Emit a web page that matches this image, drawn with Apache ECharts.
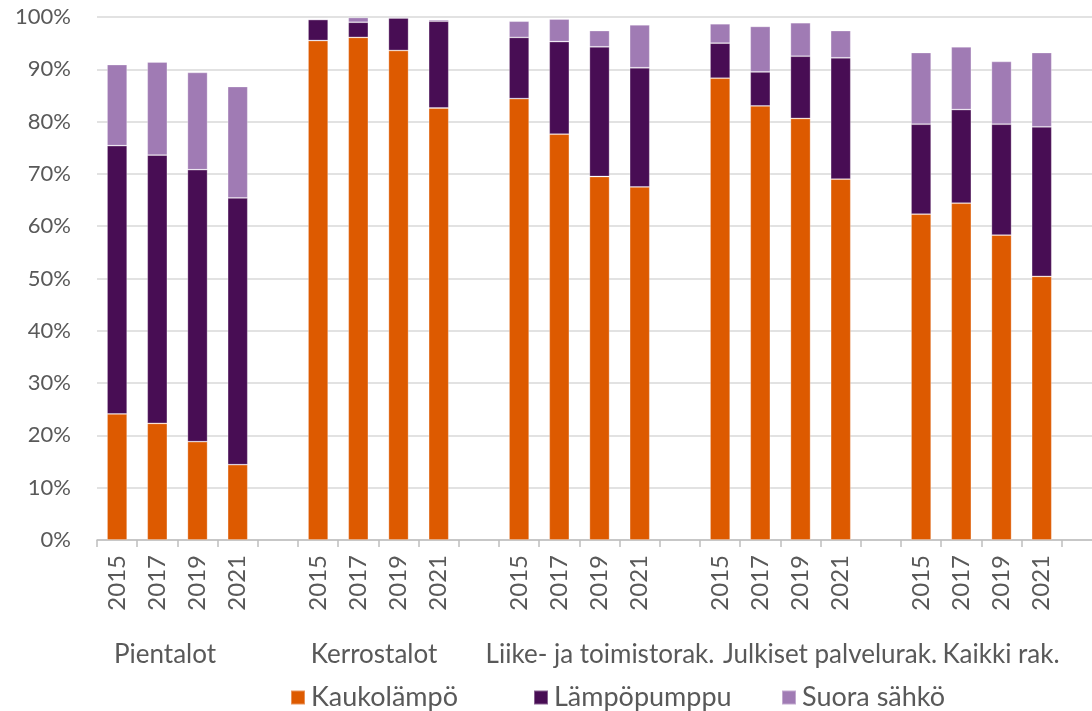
<!DOCTYPE html>
<html>
<head>
<meta charset="utf-8">
<script src="https://cdn.jsdelivr.net/npm/echarts@6/dist/echarts.min.js"></script>
<style>
html,body{margin:0;padding:0;background:#fff;overflow:hidden;width:1092px;height:711px;}
#main{width:1102px;height:711px;}
</style>
</head>
<body>
<div id="main"></div>
<script>
const years = ['2015', '2017', '2019', '2021'];
const groups = ['Pientalot', 'Kerrostalot', 'Liike- ja toimistorak.', 'Julkiset palvelurak.', 'Kaikki rak.'];
const seriesNames = ['Kaukolämpö', 'Lämpöpumppu', 'Suora sähkö'];
// values per group, in year order
const kaukolampo = [
  [24.1, 22.3, 18.8, 14.4],
  [95.5, 96.1, 93.6, 82.6],
  [84.4, 77.6, 69.5, 67.5],
  [88.3, 83.0, 80.6, 69.0],
  [62.3, 64.4, 58.3, 50.4]
];
const lampopumppu = [
  [51.3, 51.3, 52.0, 51.0],
  [4.0, 2.9, 6.2, 16.6],
  [11.7, 17.7, 24.8, 22.8],
  [6.7, 6.5, 11.9, 23.2],
  [17.2, 17.9, 21.2, 28.6]
];
const suoraSahko = [
  [15.5, 17.8, 18.6, 21.3],
  [0.2, 0.9, 0.2, 0.3],
  [3.1, 4.3, 3.1, 8.2],
  [3.7, 8.7, 6.4, 5.2],
  [13.7, 12.0, 12.0, 14.2]
];
const yTicks = [0, 10, 20, 30, 40, 50, 60, 70, 80, 90, 100];

// build category axis with an empty slot after every group
const cats = [];
function flat(arr) {
  const out = [];
  arr.forEach(g => { g.forEach(v => out.push(v)); out.push(null); });
  return out;
}
groups.forEach(() => { years.forEach(y => cats.push(y)); cats.push(''); });

const colors = ['#DD5A00', '#480D54', '#A07BB4'];
const FONT = 'Lato';
const GRAY = '#595959';

const chart = echarts.init(document.getElementById('main'), null, {renderer: 'canvas'});
const mkSeries = (name, data, i) => ({
  name: name, type: 'bar', stack: 'total', data: flat(data),
  barWidth: '50%',
  itemStyle: {color: colors[i], borderColor: 'rgba(255,255,255,0.35)', borderWidth: 0.8}
});

// group label text centres and legend item positions, as in the reference
const groupX = [165, 374, 600, 830, 1001];
const legendLeft = [285, 528, 776];

chart.setOption({
  animation: false,
  textStyle: {fontFamily: FONT},
  grid: {left: 97, right: 0, top: 17, bottom: 171, containLabel: false},
  xAxis: {
    type: 'category', data: cats,
    axisLine: {lineStyle: {color: '#BFBFBF', width: 1.5}},
    axisTick: {show: true, length: 7, lineStyle: {color: '#BFBFBF', width: 1.5}},
    axisLabel: {interval: 0, rotate: 90, margin: 15, color: GRAY, fontSize: 24, fontFamily: FONT}
  },
  yAxis: {
    type: 'value', min: yTicks[0], max: yTicks[yTicks.length - 1], interval: 10,
    axisLine: {show: false}, axisTick: {show: false},
    splitLine: {lineStyle: {color: '#D9D9D9', width: 1.5}},
    axisLabel: {formatter: '{value}%', color: GRAY, fontSize: 22, fontFamily: FONT, margin: 26}
  },
  legend: seriesNames.map((n, i) => ({
    data: [n], left: legendLeft[i], top: 679,
    itemWidth: 14, itemHeight: 14,
    icon: 'rect',
    textStyle: {color: GRAY, fontSize: 27, fontFamily: FONT, padding: [0, 0, 0, 1]}
  })),
  graphic: groups.map((g, i) => ({
    type: 'text', x: groupX[i], y: 655,
    style: {text: g, fill: GRAY, font: '26px ' + FONT, textAlign: 'center', textVerticalAlign: 'middle'}
  })),
  series: [
    mkSeries(seriesNames[0], kaukolampo, 0),
    mkSeries(seriesNames[1], lampopumppu, 1),
    mkSeries(seriesNames[2], suoraSahko, 2)
  ]
});
</script>
</body>
</html>
